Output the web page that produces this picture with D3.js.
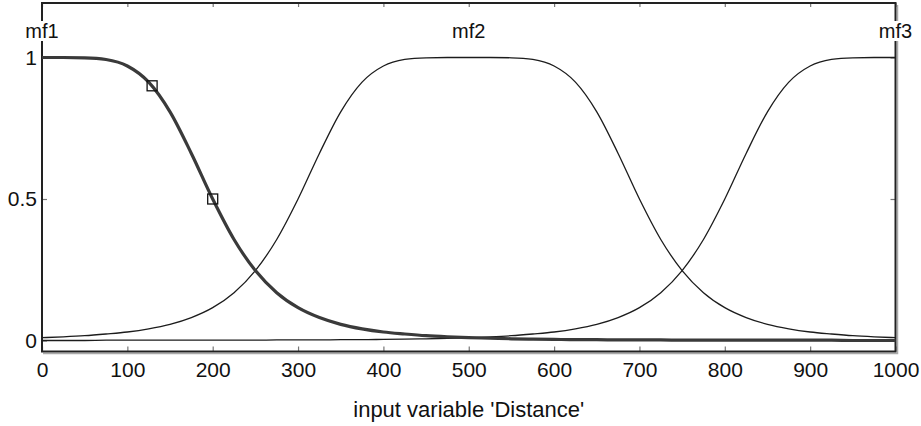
<!DOCTYPE html>
<html>
<head>
<meta charset="utf-8">
<script src="https://cdn.jsdelivr.net/npm/d3@7"></script>
<style>
  body { margin: 0; background: #fff }
  text { font-family: 'Liberation Sans', Arial, sans-serif; fill: #111 }
</style>
</head>
<body>
<div id="chart"></div>
<script>
// membership values, every 25 units of distance
const distance = [0, 25, 50, 75, 100, 125, 150, 175, 200, 225, 250, 275, 300, 325, 350, 375, 400, 425, 450, 475,
  500, 525, 550, 575, 600, 625, 650, 675, 700, 725, 750, 775, 800, 825, 850, 875, 900, 925, 950, 975, 1000]
const mf1 = [1.000, 1.000, 0.999, 0.993, 0.970, 0.913, 0.808, 0.661, 0.500, 0.357, 0.247, 0.169, 0.116, 0.081,
  0.057, 0.041, 0.030, 0.023, 0.017, 0.013, 0.010, 0.008, 0.006, 0.005, 0.004, 0.003, 0.003, 0.002, 0.002, 0.002,
  0.001, 0.001, 0.001, 0.001, 0.001, 0.001, 0.001, 0.001, 0.000, 0.000, 0.000]
const mf2 = [0.010, 0.013, 0.017, 0.023, 0.030, 0.041, 0.057, 0.081, 0.116, 0.169, 0.247, 0.357, 0.500, 0.661,
  0.808, 0.913, 0.970, 0.993, 0.999, 1.000, 1.000, 1.000, 0.999, 0.993, 0.970, 0.913, 0.808, 0.661, 0.500, 0.357,
  0.247, 0.169, 0.116, 0.081, 0.057, 0.041, 0.030, 0.023, 0.017, 0.013, 0.010]
const mf3 = [0.000, 0.000, 0.000, 0.001, 0.001, 0.001, 0.001, 0.001, 0.001, 0.001, 0.001, 0.002, 0.002, 0.002,
  0.003, 0.003, 0.004, 0.005, 0.006, 0.008, 0.010, 0.013, 0.017, 0.023, 0.030, 0.041, 0.057, 0.081, 0.116, 0.169,
  0.247, 0.357, 0.500, 0.661, 0.808, 0.913, 0.970, 0.993, 0.999, 1.000, 1.000]
const mfNames = ['mf1', 'mf2', 'mf3']
const mfCenters = [0, 500, 1000]
const handleX = [129, 200]
const handleY = [0.9, 0.5]
const xTicks = [0, 100, 200, 300, 400, 500, 600, 700, 800, 900, 1000]
const yTicks = [0, 0.5, 1]
const axisTitle = "input variable 'Distance'"

const width = 921
const height = 426
const box = { left: 42, right: 895.5, top: 3, bottom: 351.5 }

const svg = d3.select('#chart').append('svg').attr('width', width).attr('height', height)

const x = d3.scaleLinear().domain([0, 1000]).range([box.left, box.right])
const y = d3.scaleLinear().domain([0, 1]).range([340.5, 57.5])

// tick marks
const styleTicks = g => {
  g.select('.domain').remove()
  g.selectAll('.tick line').attr('stroke', '#777').attr('stroke-width', 1.2)
  g.selectAll('.tick text').style('font-size', '21px')
}

svg.append('g')
  .attr('transform', `translate(0,${box.bottom})`)
  .call(d3.axisBottom(x).tickValues(xTicks).tickSize(-5).tickPadding(11).tickFormat(d3.format('d')))
  .call(styleTicks)

svg.append('g')
  .attr('transform', `translate(0,${box.top})`)
  .call(d3.axisTop(x).tickValues(xTicks).tickSize(-4).tickFormat(''))
  .call(styleTicks)

svg.append('g')
  .attr('transform', `translate(${box.left},0)`)
  .call(d3.axisLeft(y).tickValues(yTicks).tickSize(-5).tickPadding(5).tickFormat(d3.format('~g')))
  .call(styleTicks)

svg.append('g')
  .attr('transform', `translate(${box.right},0)`)
  .call(d3.axisRight(y).tickValues(yTicks).tickSize(-5).tickFormat(''))
  .call(styleTicks)

// frame, with the faint grey shadow on the right and bottom
const frame = svg.append('g').attr('fill', 'none')
frame.append('path')
  .attr('d', `M${box.right + 2},${box.top + 2}V${box.bottom + 2}H${box.left + 1}`)
  .attr('stroke', '#aaa').attr('stroke-width', 1.5)
frame.append('rect')
  .attr('x', box.left).attr('y', box.top)
  .attr('width', box.right - box.left).attr('height', box.bottom - box.top)
  .attr('stroke', '#222').attr('stroke-width', 2)

// curves
const line = d3.line()
  .x((d, i) => x(distance[i]))
  .y(d => y(d))
  .curve(d3.curveMonotoneX)

const series = [
  { name: 'mf3', val: mf3, stroke: '#1c1c1c', width: 1.3 },
  { name: 'mf2', val: mf2, stroke: '#1c1c1c', width: 1.3 },
  { name: 'mf1', val: mf1, stroke: '#3a3a3a', width: 3.2 }
]

svg.selectAll('.mf')
  .data(series)
  .enter()
  .append('path')
  .attr('class', 'mf')
  .attr('fill', 'none')
  .attr('stroke', d => d.stroke)
  .attr('stroke-width', d => d.width)
  .attr('d', d => line(d.val))

// edit handles of the selected curve
svg.selectAll('.handle')
  .data(handleX)
  .enter()
  .append('rect')
  .attr('class', 'handle')
  .attr('x', d => x(d) - 5)
  .attr('y', (d, i) => y(handleY[i]) - 5)
  .attr('width', 10)
  .attr('height', 10)
  .attr('fill', 'none')
  .attr('stroke', '#111')
  .attr('stroke-width', 1.3)

// mf names sit on a white patch that breaks the frame
const labels = svg.selectAll('.mfname')
  .data(mfNames)
  .enter()
  .append('g')
  .attr('class', 'mfname')

labels.append('text')
  .attr('x', (d, i) => x(mfCenters[i]))
  .attr('y', 38)
  .attr('text-anchor', 'middle')
  .style('font-size', '20px')
  .text(d => d)

labels.each(function () {
  const g = d3.select(this)
  const b = g.select('text').node().getBBox()
  g.insert('rect', 'text')
    .attr('x', b.x - 1).attr('y', b.y + 1)
    .attr('width', b.width + 2).attr('height', b.height - 2)
    .attr('fill', '#fff')
})

svg.append('text')
  .attr('x', x(500))
  .attr('y', 417)
  .attr('text-anchor', 'middle')
  .style('font-size', '22px')
  .text(axisTitle)
</script>
</body>
</html>
